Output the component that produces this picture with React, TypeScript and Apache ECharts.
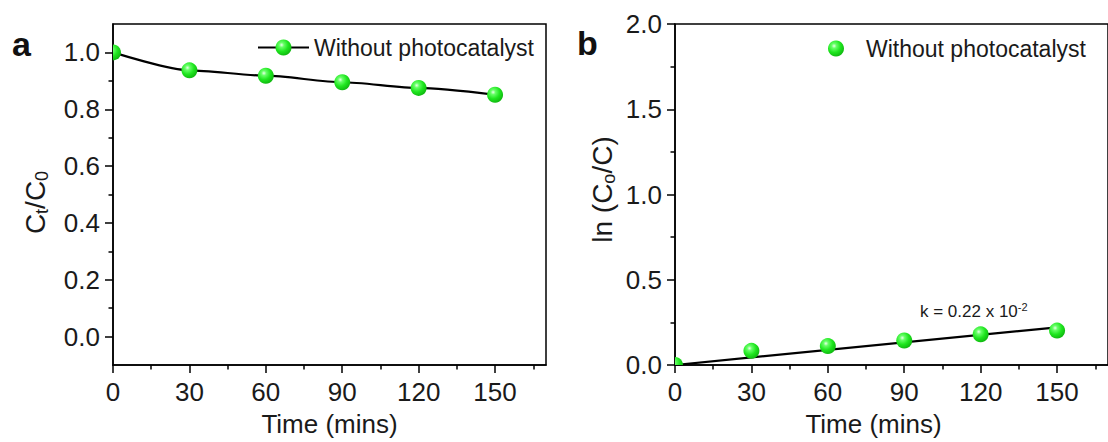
import { useEffect, useRef } from "react";
import * as echarts from "echarts";

const seriesName = "Without photocatalyst";
const timeMins = [0, 30, 60, 90, 120, 150];
const ctOverC0 = [1.0, 0.937, 0.918, 0.895, 0.875, 0.851];
const lnC0OverC = [0.0, 0.083, 0.111, 0.144, 0.18, 0.202];
const fitTime = [0, 150];
const fitLn = [0, 0.221];
const xMajorTicks = [0, 30, 60, 90, 120, 150];
const xMinorTicks = [15, 45, 75, 105, 135, 165];
const yaMajor = [0, 0.2, 0.4, 0.6, 0.8, 1.0];
const yaMinor = [0.1, 0.3, 0.5, 0.7, 0.9];
const ybMajor = [0, 0.5, 1.0, 1.5, 2.0];
const ybMinor = [0.25, 0.75, 1.25, 1.75];
const annotationMain = "k = 0.22 x 10";
const annotationExp = "-2";

const FONT = "'Liberation Sans', Arial, Helvetica, sans-serif";
const INK = "#1a1a1a";

const sphere = {
  type: "radial",
  x: 0.38,
  y: 0.34,
  r: 0.68,
  colorStops: [
    { offset: 0, color: "#e8ffe8" },
    { offset: 0.22, color: "#66ff66" },
    { offset: 0.6, color: "#1fe61f" },
    { offset: 1, color: "#10b810" },
  ],
  global: false,
};

const axisLineStyle = { color: "#000", width: 1.5 };

function xAxes(gridIndex: number, namePad: number[]) {
  return [
    {
      gridIndex,
      type: "value",
      position: "bottom",
      min: 0,
      max: 170,
      axisLine: { show: true, onZero: false, lineStyle: axisLineStyle },
      axisTick: { show: true, customValues: xMajorTicks, length: 8, lineStyle: axisLineStyle },
      axisLabel: { customValues: xMajorTicks, fontSize: 26, fontFamily: FONT, color: INK, margin: 14 },
      splitLine: { show: false },
      name: "Time (mins)",
      nameLocation: "middle",
      nameGap: 46,
      nameTextStyle: { fontSize: 26, fontFamily: FONT, color: INK, padding: namePad },
    },
    {
      gridIndex,
      type: "value",
      position: "bottom",
      min: 0,
      max: 170,
      axisLine: { show: false, onZero: false },
      axisTick: { show: true, customValues: xMinorTicks, length: 4.5, lineStyle: axisLineStyle },
      axisLabel: { show: false },
      splitLine: { show: false },
    },
  ];
}

function yAxes(
  gridIndex: number,
  min: number,
  max: number,
  major: number[],
  minor: number[],
  name: string,
  nameGap: number,
  namePad: number[]
) {
  return [
    {
      gridIndex,
      type: "value",
      position: "left",
      min,
      max,
      axisLine: { show: true, onZero: false, lineStyle: axisLineStyle },
      axisTick: { show: true, customValues: major, length: 8, lineStyle: axisLineStyle },
      axisLabel: {
        customValues: major,
        fontSize: 26,
        fontFamily: FONT,
        color: INK,
        margin: 13,
        formatter: (v: number) => v.toFixed(1),
      },
      splitLine: { show: false },
      name,
      nameLocation: "middle",
      nameRotate: 90,
      nameGap,
      nameTextStyle: { fontSize: 28, fontFamily: FONT, color: INK, rich: nameRich, padding: namePad },
    },
    {
      gridIndex,
      type: "value",
      position: "left",
      min,
      max,
      axisLine: { show: false, onZero: false },
      axisTick: { show: true, customValues: minor, length: 4.5, lineStyle: axisLineStyle },
      axisLabel: { show: false },
      splitLine: { show: false },
    },
  ];
}

const nameRich = {
  m: { fontSize: 28, fontFamily: FONT, color: INK, lineHeight: 32 },
  s: { fontSize: 18, fontFamily: FONT, color: INK, lineHeight: 8, verticalAlign: "bottom" },
};

function markerSeries(xIdx: number, yIdx: number, ys: number[]) {
  return {
    type: "custom",
    name: "markers",
    xAxisIndex: xIdx,
    yAxisIndex: yIdx,
    clip: true,
    z: 5,
    data: timeMins.map((t, i) => [t, ys[i]]),
    renderItem: (_params: any, api: any) => {
      const p = api.coord([api.value(0), api.value(1)]);
      return {
        type: "circle",
        shape: { cx: p[0], cy: p[1], r: 8 },
        style: { fill: sphere, stroke: "none" },
      };
    },
  };
}

export default function App() {
  const ref = useRef<HTMLDivElement>(null);
  useEffect(() => {
    if (!ref.current) return;
    const chart = echarts.init(ref.current, null, { renderer: "svg" });
    const option: any = {
      animation: false,
      backgroundColor: "#ffffff",
      textStyle: { fontFamily: FONT },
      grid: [
        { left: 113, top: 24, width: 433, height: 344, show: true, borderColor: "#000", borderWidth: 1.5, backgroundColor: "transparent" },
        { left: 675, top: 24, width: 435, height: 344, show: true, borderColor: "#000", borderWidth: 1.5, backgroundColor: "transparent" },
      ],
      xAxis: [...xAxes(0, [0, 0, 0, 0]), ...xAxes(1, [0, 36, 0, 0])],
      yAxis: [
        ...yAxes(0, -0.1, 1.1, yaMajor, yaMinor, "{m|C}{s|t}{m|/C}{s|0}", 62, [0, 16, 0, 0]),
        ...yAxes(1, 0, 2, ybMajor, ybMinor, "{m|ln (C}{s|o}{m|/C)}", 57, [0, 0, 0, 10]),
      ],
      legend: [
        {
          data: [seriesName],
          left: 252,
          top: 31,
          itemWidth: 51,
          itemHeight: 20,
          selectedMode: false,
          textStyle: { fontSize: 23, fontFamily: FONT, color: INK, lineHeight: 20 },
        },
        {
          data: [{ name: seriesName, icon: "circle" }],
          left: 823,
          top: 32,
          itemWidth: 50,
          itemHeight: 16,
          selectedMode: false,
          textStyle: { fontSize: 23, fontFamily: FONT, color: INK, lineHeight: 16 },
        },
      ],
      series: [
        {
          type: "line",
          name: seriesName,
          xAxisIndex: 0,
          yAxisIndex: 0,
          data: timeMins.map((t, i) => [t, ctOverC0[i]]),
          smooth: 0.25,
          smoothMonotone: "x",
          showSymbol: false,
          symbol: "circle",
          lineStyle: { color: "#000", width: 2.2 },
          itemStyle: { color: sphere, borderWidth: 0 },
          z: 3,
        },
        markerSeries(0, 0, ctOverC0),
        {
          type: "line",
          name: "fit",
          xAxisIndex: 2,
          yAxisIndex: 2,
          data: fitTime.map((t, i) => [t, fitLn[i]]),
          showSymbol: false,
          symbol: "none",
          lineStyle: { color: "#000", width: 2.2 },
          itemStyle: { color: "#000" },
          z: 3,
        },
        markerSeries(2, 2, lnC0OverC),
      ],
      graphic: [
        {
          type: "text",
          left: 12,
          top: 27,
          style: { text: "a", font: `bold 34px ${FONT}`, fill: "#111" },
        },
        {
          type: "text",
          left: 577,
          top: 26,
          style: { text: "b", font: `bold 34px ${FONT}`, fill: "#111" },
        },
        {
          type: "text",
          left: 920,
          top: 301,
          style: {
            text: `{m|${annotationMain}}{sup|${annotationExp}}`,
            rich: {
              m: { fontSize: 17, fontFamily: FONT, fill: INK, lineHeight: 21 },
              sup: { fontSize: 11, fontFamily: FONT, fill: INK, lineHeight: 10, verticalAlign: "top" },
            },
          },
        },
      ],
    };
    chart.setOption(option);
    return () => chart.dispose();
  }, []);
  return (
    <div
      ref={ref}
      style={{ position: "absolute", left: 0, top: 0, width: 1108, height: 442 }}
    />
  );
}
